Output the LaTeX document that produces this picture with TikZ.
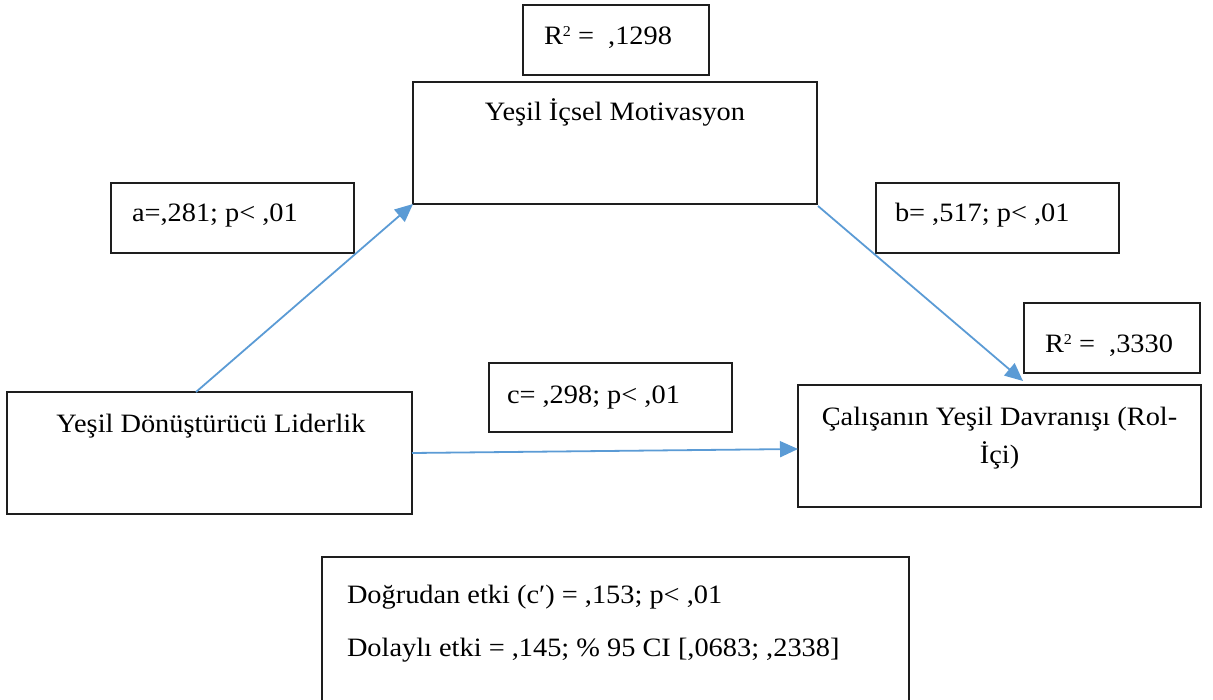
\documentclass[tikz,border=0pt]{standalone}
\usepackage{fontspec}
\setmainfont{Liberation Serif}[FakeStretch=1.07]
\usetikzlibrary{arrows.meta}
\definecolor{arrowblue}{RGB}{91,155,213}
\definecolor{boxline}{RGB}{30,30,30}
\newcommand{\sqr}{\raisebox{8pt}{\fontsize{15}{15}\selectfont 2}}
\begin{document}
\begin{tikzpicture}[x=1pt,y=-1pt,
  box/.style={draw=boxline, line width=1.2pt, inner sep=0pt, outer sep=0pt, anchor=north west},
  lbl/.style={inner sep=0pt, outer sep=0pt, font=\fontsize{26.5}{37}\selectfont},
  arr/.style={draw=arrowblue, line width=1.8pt, -{Triangle[length=18pt,width=16pt]}, arrowblue}]
\useasboundingbox (0,0) rectangle (1213,700);
% boxes
\node[box, minimum width=186pt, minimum height=70pt] (R1) at (523,5) {};
\node[box, minimum width=404pt, minimum height=122pt] (M) at (413,82) {};
\node[box, minimum width=243pt, minimum height=70pt] (A) at (111,183) {};
\node[box, minimum width=243pt, minimum height=70pt] (B) at (876,183) {};
\node[box, minimum width=176pt, minimum height=70pt] (R2) at (1024,303) {};
\node[box, minimum width=405pt, minimum height=122pt] (X) at (7,392) {};
\node[box, minimum width=243pt, minimum height=69pt] (C) at (489,363) {};
\node[box, minimum width=403pt, minimum height=122pt] (Y) at (798,385) {};
\node[box, minimum width=587pt, minimum height=170pt] (D) at (322,557) {};
% texts
\node[lbl, anchor=base west] (tR1) at (544,45) {R\sqr\ =\ \ ,1298};
\node[lbl, anchor=base] (tM) at (615,121) {Yeşil İçsel Motivasyon};
\node[lbl, anchor=base west] (tA) at (132,222) {a=,281; p< ,01};
\node[lbl, anchor=base west] (tB) at (895,222) {b= ,517; p< ,01};
\node[lbl, anchor=base west] (tR2) at (1045,353) {R\sqr\ =\ \ ,3330};
\node[lbl, anchor=base west] (tC) at (507,403) {c= ,298; p< ,01};
\node[lbl, anchor=base] (tX) at (211,432) {Yeşil Dönüştürücü Liderlik};
\node[lbl, anchor=base] (tY1) at (999.5,426) {Çalışanın Yeşil Davranışı (Rol-};
\node[lbl, anchor=base] (tY2) at (999.5,463) {İçi)};
\node[lbl, anchor=base west] (tD1) at (347,603) {Doğrudan etki (c′) = ,153; p< ,01};
\node[lbl, anchor=base west] (tD2) at (347,656) {Dolaylı etki = ,145; \% 95 CI [,0683; ,2338]};
% connectors
\coordinate (btip) at (1023,381);
\draw[arr] ([xshift=-13.5pt]X.north) -- (M.south west);
\draw[arr] ([xshift=1pt,yshift=-2pt]M.south east) -- (btip);
\draw[arr] (X.east) -- ([yshift=-3pt]Y.west);
\end{tikzpicture}
\end{document}
